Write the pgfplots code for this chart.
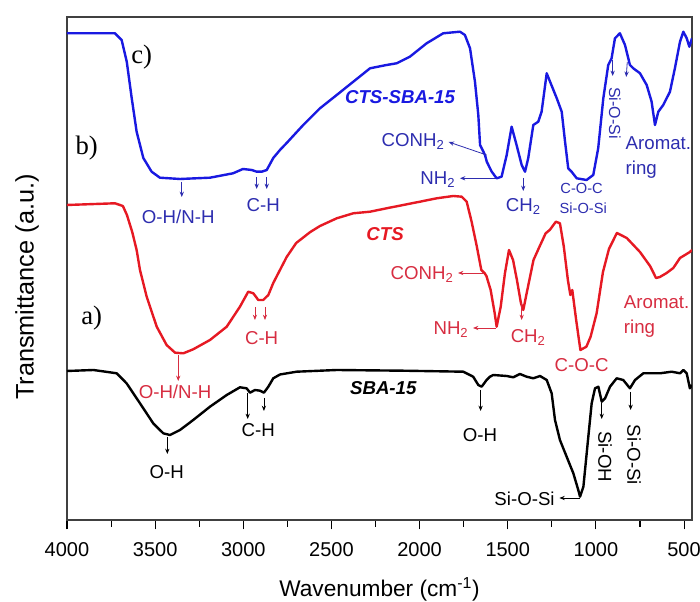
\documentclass[border=0pt]{standalone}
\usepackage{fontspec}
\setmainfont{Liberation Sans}
\newfontfamily\seriffont{Liberation Serif}
\usepackage{pgfplots}
\pgfplotsset{compat=1.18}
\usetikzlibrary{arrows.meta}
\definecolor{cblue}{RGB}{25,25,225}
\definecolor{lblue}{RGB}{45,45,175}
\definecolor{cred}{RGB}{230,25,35}
\definecolor{lred}{RGB}{215,45,65}
\newcommand{\fs}[1]{\fontsize{#1}{#1}\selectfont}
\tikzset{arr/.style={line width=0.6pt, -{Stealth[length=4pt,width=3.2pt]}},
  t/.style={font=\fs{14}, inner sep=1pt}}
\begin{document}
\begin{tikzpicture}
\path[use as bounding box] (0,0) rectangle (525pt,451.5pt);
\begin{axis}[at={(50.25pt,61.5pt)}, anchor=south west,
  width=468.75pt, height=377.25pt, scale only axis,
  x dir=reverse, y dir=reverse,
  xmin=455, xmax=4000, ymin=17, ymax=520,
  xtick={500,1000,...,4000}, minor xtick={750,1250,...,3750},
  xtick pos=bottom, tick align=outside, ytick=\empty,
  major tick length=7pt, minor tick length=5pt,
  every tick/.style={black, line width=0.8pt},
  xticklabel style={font=\fs{15}, yshift=-6.5pt},
  /pgf/number format/assume math mode=true,
  /pgf/number format/1000 sep={},
  xlabel={Wavenumber (cm\textsuperscript{-1})},
  ylabel={Transmittance (a.u.)},
  every axis x label/.style={at={(axis description cs:0.5,0)}, anchor=center, yshift=-52pt, font=\fs{17}},
  every axis y label/.style={at={([xshift=-30pt]axis description cs:0,0.463)}, anchor=center, rotate=90, font=\fs{19}},
  axis line style={line width=0.8pt, black!75},
  clip mode=individual,
]
% CTS-SBA-15 (blue)
\addplot[cblue, line width=1.8pt, line join=round] coordinates {
(4000,33.3) (3728,33.3) (3690,40) (3661,61.7) (3633,98) (3605,131.7) (3567,158) (3520,171.7) (3473,177.7) (3359,179) (3189,177.7) (3058,173.3) (3002,169) (2952,170) (2924,171.7) (2896,171.7) (2867,170) (2830,158) (2792,150) (2754,143) (2660,125) (2565,108.3) (2470,95) (2376,81.7) (2281,68.3) (2187,65) (2130,63.3) (2055,56.7) (1960,43.3) (1866,33.3) (1771,31.7) (1743,35) (1714,48.3) (1686,81.7) (1667,115) (1657,145) (1629,155) (1619,161.7) (1591,171.7) (1563,178.3) (1535,176.7) (1506,155) (1478,126.7) (1450,145) (1421,165) (1402,171.7) (1384,158.3) (1355,125) (1327,121.7) (1308,111.7) (1279,73.3) (1260,81.7) (1222,98.3) (1194,111.7) (1175,141.7) (1157,168.3) (1138,171.7) (1109,178.3) (1053,180) (1015,175) (987,148.3) (958,98.3) (930,65) (911,58.3) (892,38.3) (864,33.3) (835,45) (807,65) (788,68.3) (750,73.3) (712,85) (684,101.7) (665,125) (646,111.7) (618,105) (580,91.7) (552,68.3) (523,41.7) (504,31.7) (485,38.3) (470,46.7) (455,38.3)
};
% CTS (red)
\addplot[cred, line width=1.8pt, line join=round] coordinates {
(4000,205) (3728,203.3) (3683,206) (3660,215) (3630,232) (3605,250) (3586,270) (3548,296.7) (3491,326.7) (3435,345) (3387,352.7) (3340,353.3) (3284,349.3) (3189,340) (3094,326.7) (3019,306.7) (2972,291.7) (2943,293.3) (2915,300) (2887,300) (2858,295) (2830,283) (2792,270) (2754,257) (2700,243) (2620,232) (2565,226) (2470,218.3) (2376,213.3) (2281,211.7) (2187,208.3) (2093,205) (1998,201.7) (1903,198.3) (1809,196) (1761,196.7) (1733,201.7) (1705,221.7) (1676,246) (1650,270) (1632,273) (1621,276) (1597,290) (1574,313.3) (1563,326.7) (1540,306.7) (1516,273.3) (1493,250) (1470,260) (1448,280) (1425,303.3) (1412,310) (1389,290) (1354,260) (1320,246.7) (1285,233.3) (1262,230) (1227,221.7) (1204,223.3) (1182,246.7) (1159,280) (1145,295) (1134,290) (1112,320) (1088,350) (1054,346.7) (1030,336.7) (996,313.3) (960,272) (926,249) (881,233) (825,238) (750,252) (693,266) (659,278) (637,277) (599,273) (561,268) (523,258) (467,252) (455,250)
};
% SBA-15 (black)
\addplot[black, line width=1.8pt, line join=round] coordinates {
(4000,371) (3850,370) (3718,373.3) (3662,383.3) (3586,403.3) (3511,423.3) (3454,433.3) (3416,435) (3359,430) (3284,420) (3189,406.7) (3094,395) (3019,387.3) (2981,388.3) (2962,392.7) (2934,390) (2905,390.7) (2883,392.7) (2858,386.7) (2830,378.3) (2792,374.5) (2697,371.7) (2470,370) (2093,370.7) (1752,371.7) (1696,376.7) (1667,385) (1648,386.7) (1620,380) (1601,376.7) (1582,375) (1506,376) (1469,377.3) (1431,374) (1393,376.7) (1355,378.3) (1317,376) (1279,380) (1251,393.3) (1232,420) (1204,440) (1166,456.7) (1128,473.3) (1100,490) (1090,496.7) (1071,486.7) (1043,436.7) (1024,403.3) (1005,388.3) (986,386.7) (967,401.7) (948,398.3) (920,386.7) (882,378.3) (845,380) (807,388.3) (778,380) (731,373.3) (637,373.3) (570,371.7) (523,373.3) (504,370) (485,373.3) (467,388.3) (455,385)
};
% sample letters
\node[font=\seriffont\fs{20}] at (axis cs:3576,56.7) {c)};
\node[font=\seriffont\fs{20}] at (axis cs:3888,148.3) {b)};
\node[font=\seriffont\fs{20}] at (axis cs:3860,318.3) {a)};
% blue labels
\node[cblue, font=\bfseries\itshape\fs{14}] at (axis cs:2111,96.7) {CTS-SBA-15};
\draw[lblue, arr] (axis cs:3349,181.7) -- (axis cs:3349,197);
\node[lblue, t] at (axis cs:3369,216.7) {O-H/N-H};
\draw[lblue, arr] (axis cs:2924,177) -- (axis cs:2924,189);
\draw[lblue, arr] (axis cs:2867,177) -- (axis cs:2867,189);
\node[lblue, t] at (axis cs:2887,205) {C-H};
\draw[lblue, arr] (axis cs:1620,155) -- (axis cs:1835,142);
\node[lblue, t, anchor=base east] at (axis cs:1850,147) {CONH\textsubscript{2}};
\draw[lblue, arr] (axis cs:1567,178.3) -- (axis cs:1771,178.3);
\node[lblue, t, anchor=base east] at (axis cs:1788,184.5) {NH\textsubscript{2}};
\draw[lblue, arr] (axis cs:1412,178) -- (axis cs:1412,191);
\node[lblue, t, anchor=base] at (axis cs:1412,211.5) {CH\textsubscript{2}};
\node[lblue, font=\fs{11}] at (axis cs:1081,188.3) {C-O-C};
\node[lblue, font=\fs{11}] at (axis cs:1072,208.3) {Si-O-Si};
\draw[lblue, arr] (axis cs:905,60) -- (axis cs:905,76);
\node[lblue, rotate=-90, font=\fs{12}] at (axis cs:892,113) {Si-O-Si};
\draw[lblue, arr] (axis cs:822,62) -- (axis cs:828,77);
\node[lblue, t, anchor=west] at (axis cs:840,143.3) {Aromat.};
\node[lblue, t, anchor=west] at (axis cs:840,170) {ring};
% red labels
\node[cred, font=\bfseries\itshape\fs{14}] at (axis cs:2196,234) {CTS};
\draw[lred, arr] (axis cs:3369,355) -- (axis cs:3369,381);
\node[lred, t] at (axis cs:3387,391.7) {O-H/N-H};
\draw[lred, arr] (axis cs:2934,307) -- (axis cs:2934,320);
\draw[lred, arr] (axis cs:2877,307) -- (axis cs:2877,320);
\node[lred, t] at (axis cs:2896,338.3) {C-H};
\draw[lred, arr] (axis cs:1635,273) -- (axis cs:1782,273);
\node[lred, t, anchor=base east] at (axis cs:1799,279.5) {CONH\textsubscript{2}};
\draw[lred, arr] (axis cs:1567,328) -- (axis cs:1697,328);
\node[lred, t, anchor=base east] at (axis cs:1714,334.5) {NH\textsubscript{2}};
\draw[lred, arr] (axis cs:1421,303) -- (axis cs:1421,320);
\node[lred, t, anchor=base] at (axis cs:1384,343) {CH\textsubscript{2}};
\node[lred, t] at (axis cs:1081,365) {C-O-C};
\node[lred, t, anchor=west] at (axis cs:850,301.7) {Aromat.};
\node[lred, t, anchor=west] at (axis cs:850,328.3) {ring};
% black labels
\node[font=\bfseries\itshape\fs{14}] at (axis cs:2206,388.3) {SBA-15};
\draw[arr] (axis cs:3431,437) -- (axis cs:3431,454);
\node[t] at (axis cs:3434,471.7) {O-H};
\draw[arr] (axis cs:2975,393) -- (axis cs:2975,419);
\draw[arr] (axis cs:2883,398) -- (axis cs:2883,411);
\node[t] at (axis cs:2915,430) {C-H};
\draw[arr] (axis cs:1654,390) -- (axis cs:1654,411);
\node[t] at (axis cs:1657,435) {O-H};
\draw[arr] (axis cs:1090,498) -- (axis cs:1207,498);
\node[t, anchor=east] at (axis cs:1225,499.3) {Si-O-Si};
\draw[arr] (axis cs:967,403) -- (axis cs:967,419);
\node[t, rotate=-90] at (axis cs:948,456.7) {Si-OH};
\draw[arr] (axis cs:803,392) -- (axis cs:803,410);
\node[t, rotate=-90] at (axis cs:784,455) {Si-O-Si};
\end{axis}
\end{tikzpicture}
\end{document}
